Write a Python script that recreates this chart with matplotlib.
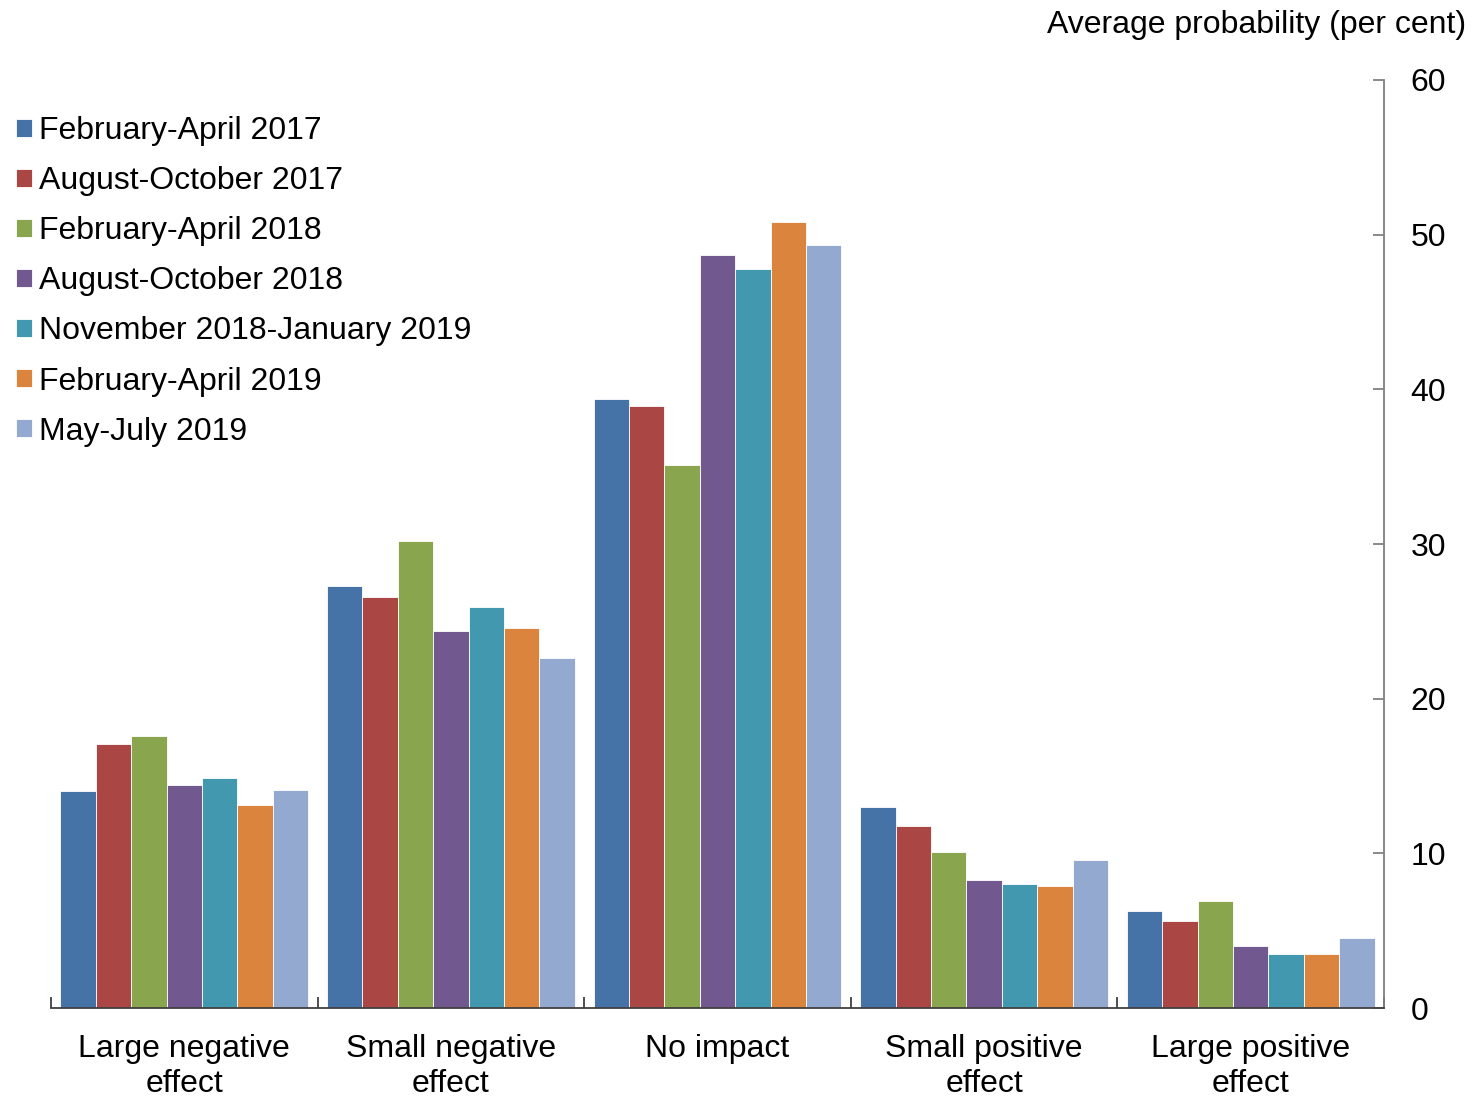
import matplotlib
matplotlib.use("Agg")
import matplotlib.pyplot as plt
import numpy as np

# ---------------------------------------------------------------------------
# Data
# ---------------------------------------------------------------------------
categories = ["Large negative\neffect", "Small negative\neffect", "No impact",
              "Small positive\neffect", "Large positive\neffect"]

series_names = ["February-April 2017", "August-October 2017", "February-April 2018",
                "August-October 2018", "November 2018-January 2019",
                "February-April 2019", "May-July 2019"]

feb_apr_2017 = [14.0, 27.3, 39.4, 13.0, 6.3]
aug_oct_2017 = [17.1, 26.6, 38.9, 11.8, 5.6]
feb_apr_2018 = [17.6, 30.2, 35.1, 10.1, 6.9]
aug_oct_2018 = [14.4, 24.4, 48.7, 8.3, 4.0]
nov_2018_jan_2019 = [14.9, 25.9, 47.8, 8.0, 3.5]
feb_apr_2019 = [13.1, 24.6, 50.8, 7.9, 3.5]
may_jul_2019 = [14.1, 22.6, 49.3, 9.6, 4.5]

colors = ["#4573a7", "#aa4744", "#89a54e", "#71588f", "#4298af", "#db843d", "#93a9d0"]

plt.rcParams["font.family"] = ["Liberation Sans", "DejaVu Sans"]

series = [feb_apr_2017, aug_oct_2017, feb_apr_2018, aug_oct_2018,
          nov_2018_jan_2019, feb_apr_2019, may_jul_2019]

FS = 23

fig = plt.figure(figsize=(14.78, 11.0), dpi=100)
ax = fig.add_axes([0.0345, 0.0836, 0.9019, 0.8437])

n = len(series)
group_w = 0.93
bar_w = group_w / n
x = np.arange(len(categories))

for i, (vals, name, c) in enumerate(zip(series, series_names, colors)):
    offs = -group_w / 2 + bar_w * (i + 0.5)
    ax.bar(x + offs, vals, width=bar_w, color=c, label=name,
           edgecolor="white", linewidth=0.6)

ax.set_xlim(-0.5, len(categories) - 0.5)
ax.set_ylim(0, 60)

# right-hand y axis, no left spine
ax.yaxis.tick_right()
ax.spines["left"].set_visible(False)
ax.spines["top"].set_visible(False)
ax.spines["right"].set_color("#808080")
ax.spines["bottom"].set_color("#404040")
ax.spines["right"].set_linewidth(1.3)
ax.spines["bottom"].set_linewidth(1.3)
ax.set_yticks(range(0, 61, 10))
ax.tick_params(axis="y", direction="in", length=8, width=1.3, color="#808080",
               labelsize=FS, pad=19)

# x ticks at category boundaries, labels centred
ax.set_xticks(np.arange(-0.5, len(categories), 1.0))
ax.set_xticklabels([])
ax.set_xticks(x, minor=True)
ax.set_xticklabels(categories, minor=True, fontsize=FS, linespacing=1.2)
ax.tick_params(axis="x", which="major", direction="in", length=8, width=1.3, color="#404040")
ax.tick_params(axis="x", which="minor", length=0, pad=19)

fig.text(0.992, 0.977, "Average probability (per cent)", ha="right", va="center", fontsize=FS)

leg = ax.legend(loc="upper left", bbox_to_anchor=(-0.0355, 0.975), frameon=False,
                fontsize=FS, handlelength=0.5, handleheight=0.5, handletextpad=0.22,
                labelspacing=0.63, borderaxespad=0)

fig.savefig("out.png", dpi=100)
